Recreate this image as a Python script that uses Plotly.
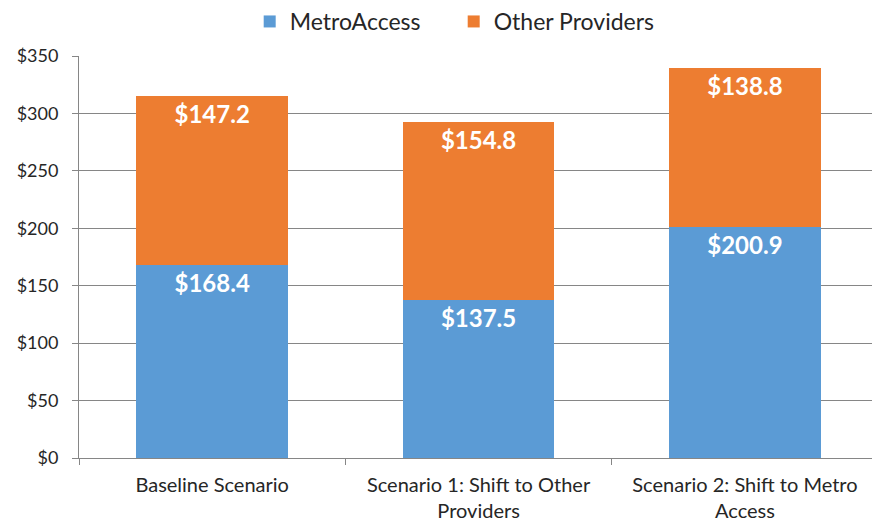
import plotly.graph_objects as go

categories = ["Baseline Scenario", "Scenario 1: Shift to Other<br>Providers", "Scenario 2: Shift to Metro<br>Access"]
metro_access = [168.4, 137.5, 200.9]
other_providers = [147.2, 154.8, 138.8]
y_ticks = [0, 50, 100, 150, 200, 250, 300, 350]

FONT = "Lato, 'Open Sans', sans-serif"

fig = go.Figure()
fig.add_trace(go.Bar(
    name="MetroAccess", x=categories, y=metro_access,
    marker=dict(color="#5B9BD5", line=dict(width=0)),
    text=[f"${v:.1f}" for v in metro_access],
    textposition="inside", insidetextanchor="end",
    textfont=dict(color="white", size=24, family=FONT, weight="bold"),
    width=0.57,
))
fig.add_trace(go.Bar(
    name="Other Providers", x=categories, y=other_providers,
    marker=dict(color="#ED7D31", line=dict(width=0)),
    text=[f"${v:.1f}" for v in other_providers],
    textposition="inside", insidetextanchor="end",
    textfont=dict(color="white", size=24, family=FONT, weight="bold"),
    width=0.57,
))

fig.update_layout(
    barmode="stack",
    width=872, height=524,
    margin=dict(l=79, r=0, t=55, b=66),
    paper_bgcolor="white", plot_bgcolor="white",
    font=dict(family=FONT, color="#262626"),
    legend=dict(orientation="h", x=0.4725, xanchor="center", y=1.087, yanchor="middle",
                font=dict(size=23, color="#262626"), traceorder="normal",
                entrywidth=159, entrywidthmode="pixels"),
    bargap=0.43,
)
fig.update_xaxes(
    range=[-0.5, 2.477],
    showline=True, linecolor="#868686", linewidth=1,
    ticks="outside", tickson="boundaries", ticklen=6, tickcolor="#868686",
    tickfont=dict(size=20, color="#262626"),
    ticklabelstandoff=9, automargin=False,
)
fig.update_yaxes(
    range=[0, 350], tickvals=y_ticks, ticktext=[f"${v}" for v in y_ticks],
    showgrid=True, gridcolor="#868686", gridwidth=1,
    showline=True, linecolor="#868686", linewidth=1,
    ticks="outside", ticklen=6, tickcolor="#868686",
    tickfont=dict(size=18, color="#262626"),
    ticklabelstandoff=10, automargin=False,
    zeroline=False,
)

fig.write_html("out.html")
